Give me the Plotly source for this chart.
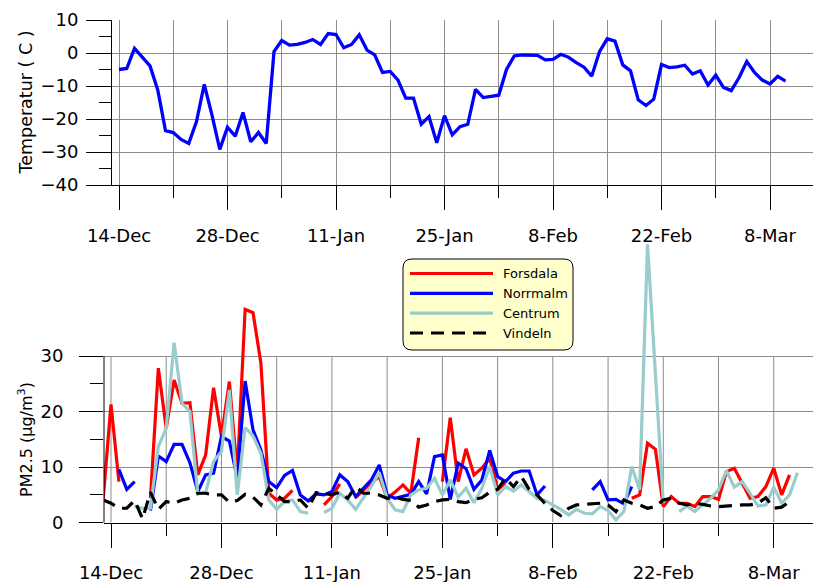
import pandas as pd
import plotly.graph_objects as go

# ---------------------------------------------------------------- data
# Daily mean air temperature (°C), 14 Dec 2009 - 10 Mar 2010
temp_start = "2009-12-14"
temperature = [
    -5.0, -4.7, 1.4, -1.3, -3.9, -11.2, -23.5, -24.1, -26.2, -27.4,
    -20.8, -9.5, -18.8, -29.2, -22.5, -25.2, -18.0, -26.9, -24.1, -27.4,
    0.4, 3.8, 2.4, 2.6, 3.2, 4.1, 2.6, 5.9, 5.6, 1.6,
    2.6, 5.5, 0.9, -0.6, -5.9, -5.6, -8.2, -13.7, -13.7, -21.6,
    -19.3, -27.2, -19.0, -24.8, -22.3, -21.6, -11.0, -13.5, -13.1, -12.8,
    -5.0, -0.9, -0.6, -0.6, -0.7, -2.1, -1.9, -0.4, -1.3, -2.9,
    -4.3, -7.0, 0.4, 4.3, 3.6, -3.6, -5.4, -14.2, -15.9, -14.0,
    -3.5, -4.4, -4.2, -3.7, -6.4, -5.4, -9.7, -6.7, -10.4, -11.4,
    -7.5, -2.6, -5.9, -8.2, -9.4, -7.1, -8.5,
]

# Daily mean PM2.5 (µg/m³), 13 Dec 2009 - 10 Mar 2010; None = missing day
pm_start = "2009-12-13"
N = None
forsdala = [
    4.1, 21.3, 7.4, N, N, N, 4.4, 27.8, 17.0, 25.7,
    21.5, 21.6, 8.6, 12.2, 24.3, 15.5, 25.4, 8.9, 38.4, 37.8,
    28.7, 5.3, 4.1, 4.4, 5.8, N, N, N, 3.2, 4.7,
    7.0, N, 4.5, 5.8, 7.2, 8.3, 4.4, 5.5, 6.8, 5.3,
    15.3, N, N, 7.4, 18.9, 7.4, 13.3, 8.6, 9.8, 11.6,
    6.0, 7.0, N, N, N, N, N, N, N, N,
    N, N, N, N, N, N, N, 4.4, 5.0, 14.3,
    13.2, 2.9, 4.7, 3.5, 3.5, 2.9, 4.7, 4.7, 4.2, 9.2,
    9.8, 7.1, 4.4, 4.7, 6.5, 9.8, 5.0, 8.6, N,
]
norrmalm = [
    N, N, 9.6, 6.0, 7.4, N, 2.2, 12.0, 11.0, 14.1,
    14.1, 10.8, 5.6, 8.6, 8.9, 15.5, 14.7, 8.0, 25.5, 16.7,
    13.1, 7.4, 6.3, 8.5, 9.4, 5.0, 3.9, 5.2, 5.0, 5.6,
    8.6, 7.4, 4.7, 6.2, 7.7, 10.4, 5.0, 4.4, 4.7, 5.1,
    7.4, 5.2, 11.9, 12.2, 4.2, 10.7, 9.7, 6.0, 7.7, 13.0,
    8.3, 7.4, 8.9, 9.3, 9.3, 5.0, 6.6, N, N, N,
    N, N, 5.9, 7.4, 4.1, 4.2, 3.4, 6.5, N, N,
    N, N, N, N, N, N, N, N, N, N,
    N, N, N, N, N, N, N, N, N,
]
centrum = [
    N, N, N, N, 2.9, 2.6, 2.6, 13.7, 17.0, 32.4,
    21.5, 20.0, 5.2, 5.4, 11.0, 12.8, 23.9, 5.0, 17.1, 15.6,
    12.5, 4.1, 2.4, 3.8, 4.1, 2.0, 1.7, N, 1.8, 2.6,
    5.3, 4.1, 2.4, 4.4, 6.6, 9.0, 4.4, 2.3, 2.0, 5.0,
    5.9, 6.2, 8.0, 5.0, 7.7, 4.6, 6.2, 3.6, 6.2, 10.1,
    5.0, 6.5, 5.7, 6.8, 5.6, 4.4, 4.0, 3.2, 2.4, 1.4,
    2.4, 1.7, 1.6, 2.9, 2.2, 0.5, 2.0, 10.1, 5.9, 50.1,
    27.0, 3.5, N, 2.0, 3.0, 2.0, 3.2, 4.4, 5.9, 9.4,
    6.4, 7.4, 5.3, 3.0, 3.2, 6.4, 3.5, 5.0, 9.0,
]
vindeln = [
    4.1, 3.5, 2.6, 2.6, 4.0, 0.7, 5.5, 2.4, 3.8, 3.5,
    4.1, 4.4, 5.3, 5.3, 5.0, 5.0, 3.7, 4.0, 5.1, 4.6,
    3.2, 6.2, 5.0, 3.8, 3.8, 4.1, 2.6, 5.4, 5.3, 5.0,
    5.5, 4.4, 6.5, 5.3, 5.3, 5.0, 4.4, 4.6, 4.2, 4.0,
    2.8, 3.2, 3.8, 4.1, 4.2, 3.8, 3.6, 4.2, 4.5, 5.5,
    6.0, 8.0, 6.5, 8.3, 6.0, 5.0, 3.5, 2.2, 1.3, 2.6,
    3.2, 3.3, 3.4, 3.5, 3.2, 2.0, 4.1, 3.5, 3.2, 2.6,
    2.9, 4.1, 4.4, 3.5, 3.2, 3.5, 3.3, 3.0, 2.9, 3.0,
    3.2, 3.2, 3.2, 3.5, 4.5, 2.6, 2.8, 3.8, N,
]

station_names = ["Forsdala", "Norrmalm", "Centrum", "Vindeln"]
station_values = [forsdala, norrmalm, centrum, vindeln]
station_colors = ["#ff0000", "#0000ff", "#99cccc", "#000000"]
station_dash = ["solid", "solid", "solid", "13px,8px"]

temp_ticks = [-40, -30, -20, -10, 0, 10]
pm_ticks = [0, 10, 20, 30]

# ---------------------------------------------------------------- geometry
W, H = 813, 582
FONT = "DejaVu Sans, Liberation Sans, Arial, sans-serif"
GRID = "#8c8c8c"
DAY_MS = 86400000


def fx(p):
    return p / W


def fy(p):
    return 1 - p / H


temp_dates = pd.date_range(temp_start, periods=len(temperature), freq="D")
pm_dates = pd.date_range(pm_start, periods=len(forsdala), freq="D")
first_tick = pd.Timestamp("2009-12-14")

# top panel: 7.75 px per day, axis at x=112, 14-Dec at x=119
top_ppd, top_axis_px, top_first_px = 7.75, 112, 119
top_range = [first_tick - pd.Timedelta(days=(top_first_px - top_axis_px) / top_ppd),
             first_tick + pd.Timedelta(days=(W - top_first_px) / top_ppd)]
# bottom panel: 7.89 px per day, axis at x=104, 14-Dec at x=111
bot_ppd, bot_axis_px, bot_first_px = 7.89, 104, 111
bot_range = [first_tick - pd.Timedelta(days=(bot_first_px - bot_axis_px) / bot_ppd),
             first_tick + pd.Timedelta(days=(W - bot_first_px) / bot_ppd)]

bot_zero_py, bot_top_py = 522.7, 238.0
bot_ppu = (522.7 - 356.0) / 30.0
bot_ymax = (bot_zero_py - bot_top_py) / bot_ppu

fig = go.Figure()

fig.add_trace(go.Scatter(
    x=temp_dates, y=temperature, mode="lines", xaxis="x", yaxis="y",
    line=dict(color="#0000ff", width=3.3), showlegend=False, name="Temperatur",
))

for name, vals, col, dash in zip(station_names, station_values, station_colors, station_dash):
    fig.add_trace(go.Scatter(
        x=pm_dates, y=vals, mode="lines", xaxis="x2", yaxis="y2",
        line=dict(color=col, width=3.2, dash=dash), showlegend=False, name=name,
        connectgaps=False,
    ))

tick_font = dict(family=FONT, size=18, color="#000000")

xaxis_common = dict(
    type="date", tick0=first_tick, dtick=14 * DAY_MS, tickformat="%-d-%b",
    ticks="outside", ticklen=24, tickwidth=1, tickcolor="#000000",
    showline=True, linecolor="#000000", linewidth=1,
    tickfont=tick_font, zeroline=False, ticklabelstandoff=10, automargin=False,
)

fig.update_layout(
    template="none",
    width=W, height=H,
    margin=dict(l=0, r=0, t=0, b=0, pad=0),
    paper_bgcolor="#ffffff", plot_bgcolor="#ffffff",
    showlegend=False,
    xaxis=dict(
        **xaxis_common, domain=[fx(top_axis_px), 1], anchor="y",
        range=top_range, showgrid=True, gridcolor=GRID, gridwidth=1,
        minor=dict(tick0=first_tick, dtick=7 * DAY_MS, ticks="outside", ticklen=12,
                   tickcolor="#000000", showgrid=True, gridcolor=GRID, gridwidth=1),
    ),
    yaxis=dict(
        domain=[fy(185), fy(20)], anchor="x", range=[-40, 10], automargin=False,
        tickvals=temp_ticks, ticks="outside", ticklen=25, tickcolor="#000000",
        showgrid=True, gridcolor=GRID, gridwidth=1, zeroline=False,
        showline=True, linecolor="#000000", linewidth=1,
        tickfont=tick_font, ticklabelstandoff=4,
        minor=dict(tickvals=[-35, -25, -15, -5, 5], ticks="outside", ticklen=12,
                   tickcolor="#000000", showgrid=False),
    ),
    xaxis2=dict(
        **xaxis_common, domain=[fx(bot_axis_px), 1], anchor="y2",
        range=bot_range, showgrid=False,
        minor=dict(tick0=first_tick, dtick=7 * DAY_MS, ticks="outside", ticklen=12,
                   tickcolor="#000000", showgrid=False),
    ),
    yaxis2=dict(
        domain=[fy(bot_zero_py), fy(bot_top_py)], anchor="x2", range=[0, bot_ymax],
        automargin=False,
        tickvals=pm_ticks, ticks="outside", ticklen=24, tickcolor="#000000",
        showgrid=True, gridcolor=GRID, gridwidth=1, zeroline=False,
        showline=False, tickfont=tick_font, ticklabelstandoff=12,
        minor=dict(tickvals=[5, 15, 25], ticks="outside", ticklen=13,
                   tickcolor="#000000", showgrid=False),
    ),
)

shapes = []
# vertical grid of the PM panel only spans the 0-30 band
week = first_tick
while week <= bot_range[1]:
    shapes.append(dict(type="line", xref="x2", yref="y2", x0=week, x1=week,
                       y0=pm_ticks[0], y1=pm_ticks[-1],
                       line=dict(color=GRID, width=1), layer="below"))
    week += pd.Timedelta(days=7)
# left axis line of the PM panel
shapes.append(dict(type="line", xref="paper", yref="y2", x0=fx(bot_axis_px), x1=fx(bot_axis_px),
                   y0=pm_ticks[0], y1=pm_ticks[-1], line=dict(color="#000000", width=1)))

# legend box with rounded corners
lx0, ly0, lx1, ly1, rad = 403, 259, 573, 350, 9


def rounded_box(x0, y0, x1, y1, r):
    pts = [
        f"M {fx(x0 + r)} {fy(y0)}", f"L {fx(x1 - r)} {fy(y0)}",
        f"Q {fx(x1)} {fy(y0)} {fx(x1)} {fy(y0 + r)}", f"L {fx(x1)} {fy(y1 - r)}",
        f"Q {fx(x1)} {fy(y1)} {fx(x1 - r)} {fy(y1)}", f"L {fx(x0 + r)} {fy(y1)}",
        f"Q {fx(x0)} {fy(y1)} {fx(x0)} {fy(y1 - r)}", f"L {fx(x0)} {fy(y0 + r)}",
        f"Q {fx(x0)} {fy(y0)} {fx(x0 + r)} {fy(y0)}", "Z",
    ]
    return " ".join(pts)


shapes.append(dict(type="path", xref="paper", yref="paper", path=rounded_box(lx0, ly0, lx1, ly1, rad),
                   fillcolor="#ffffcc", line=dict(color="#000000", width=1), layer="above"))

annotations = []
row_py = [273.5, 293.3, 313.2, 333.0]
for name, col, dash, py in zip(station_names, station_colors, station_dash, row_py):
    shapes.append(dict(type="line", xref="paper", yref="paper", x0=fx(410), x1=fx(493),
                       y0=fy(py), y1=fy(py), line=dict(color=col, width=3.2, dash=dash),
                       layer="above"))
    annotations.append(dict(xref="paper", yref="paper", x=fx(501), y=fy(py), text=name,
                            showarrow=False, xanchor="left", yanchor="middle",
                            font=dict(family=FONT, size=13, color="#000000")))

# axis titles
annotations.append(dict(xref="paper", yref="paper", x=fx(25), y=fy(102.5), text="Temperatur ( C )",
                        textangle=-90, showarrow=False, xanchor="center", yanchor="middle",
                        font=dict(family=FONT, size=17.5, color="#000000")))
annotations.append(dict(xref="paper", yref="paper", x=fx(25), y=fy(440), text="PM2.5 (µg/m<sup>3</sup>)",
                        textangle=-90, showarrow=False, xanchor="center", yanchor="middle",
                        font=dict(family=FONT, size=16, color="#000000")))

fig.update_layout(shapes=shapes, annotations=annotations)

fig.write_html("out.html")
